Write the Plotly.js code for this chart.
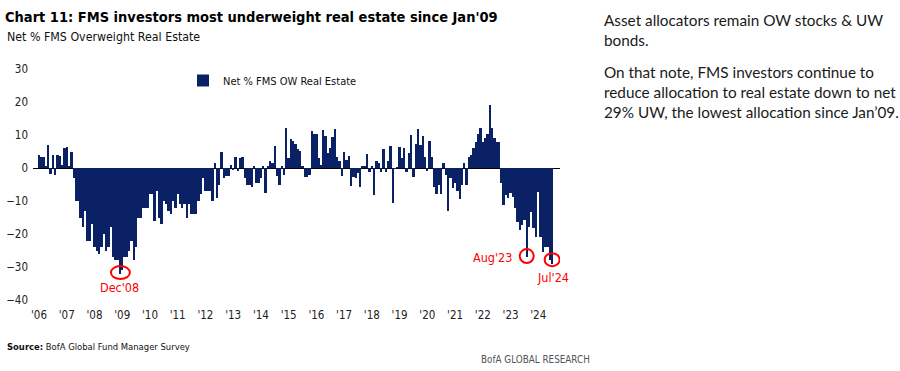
<!DOCTYPE html>
<html>
<head>
<meta charset="utf-8">
<script src="https://cdn.plot.ly/plotly-3.0.1.min.js"></script>
<style>
html,body{margin:0;padding:0;background:#fff;}
#chart{width:900px;height:371px;}
</style>
</head>
<body>
<div id="chart"></div>
<script>
// ---- Data: Net % FMS investors overweight real estate, monthly ----
const years = [2006,2007,2008,2009,2010,2011,2012,2013,2014,2015,2016,2017,2018,2019,2020,2021,2022,2023,2024];
const v2006 = [4, 3.3, 3.3, 0.5, 7, -1.7, 4, -2, 4, 3.5, 1, 6];
const v2007 = [6.5, 0.5, 4.7, -3, -10, -10, -15, -18, -13, -22, -22, -17];
const v2008 = [-24, -25, -26, -24, -20, -25, -24, -18, -27, -28, -28, -32];
const v2009 = [-31, -27, -27, -25, -22, -28, -24, -15, -15, -12, -12, -12];
const v2010 = [-8, -8, -16, -7, -15, -17, -10, -11, -13, -14, -10, -12];
const v2011 = [-8, -11, -12, -11, -15, -11, -14, -14, -14, -10, -8, -3];
const v2012 = [-7, -7, -7, -10, 1.5, -9, -5, 5, -3, -2.5, -2.5, 1];
const v2013 = [-0.6, 3.4, -1, 3, 3.4, -3, -5, -5, -5.7, 0.7, -4.6, -4.6];
const v2014 = [-3, 0.7, -7.5, 0.7, 2, 1.4, 6.7, -2.3, -5, 0.7, -2, 12];
const v2015 = [3, 8.7, 8.3, 7.2, 5.8, 5.2, 0.7, -2.6, -2.6, -2, 11.2, 10.2];
const v2016 = [10.2, 3, 1, 11.5, 9.8, 4.4, 6, 9.5, 11.7, 3.4, 2, -2.3];
const v2017 = [4.7, 2.4, 3.6, -5.4, -2.6, -3.1, -1.6, -5.8, 0.7, 0.7, 4.2, -1.1];
const v2018 = [0.7, -8.2, 2.1, 1.4, -1.1, 5.7, -1.1, 2.1, 6.8, -10.7, -0.3, 0.3];
const v2019 = [6.5, 3, 6.2, -1.1, 4.4, 10, -2.6, 7.2, 11.7, 7, 9.7, 3.4];
const v2020 = [-0.9, 8.2, 3.4, -5.7, -8, -5.2, -8, 1.4, -2, -13, -3, -6];
const v2021 = [-4.6, -7, -9.4, -5, 1.4, -5, 3.4, 4, 6.2, 8, 10.2, 12.2];
const v2022 = [8, 9.2, 10.2, 19, 12, 9.2, 8, 8, -4.6, -11.2, -8.2, -9.2];
const v2023 = [-7.7, -8.7, -12.2, -16.3, -18.8, -17.3, -15.8, -27, -17.8, -13.2, -18.3, -20.8];
const v2024 = [-7.2, -20.8, -25.4, -24, -24, -28, -29];
const yearValues = [v2006,v2007,v2008,v2009,v2010,v2011,v2012,v2013,v2014,v2015,v2016,v2017,v2018,v2019,v2020,v2021,v2022,v2023,v2024];

const tickLabels = ["'06","'07","'08","'09","'10","'11","'12","'13","'14","'15","'16","'17","'18","'19","'20","'21","'22","'23","'24"];
const yTicks = [30, 20, 10, 0, -10, -20, -30, -40];
const seriesName = 'Net % FMS OW Real Estate';

const highlights = [
  {month: '2008-12', label: "Dec'08"},
  {month: '2023-08', label: "Aug'23"},
  {month: '2024-07', label: "Jul'24"}
];

// ---- Build month categories ----
const months = [], values = [];
years.forEach((yr, i) => {
  yearValues[i].forEach((v, j) => {
    months.push(yr + '-' + String(j + 1).padStart(2, '0'));
    values.push(v);
  });
});
const tickVals = years.map(y => y + '-01');
const valOf = m => values[months.indexOf(m)];

// ---- Layout geometry ----
const W = 900, H = 371;
const M = {l: 33, r: 340, t: 69, b: 71};
const PW = W - M.l - M.r, PH = H - M.t - M.b;
const px = x => (x - M.l) / PW;
const py = y => (H - M.b - y) / PH;

const NARROW = "'Liberation Sans Narrow', 'Arial Narrow', 'DejaVu Sans Condensed', 'Roboto Condensed', sans-serif";
const BODY = "Lato, Carlito, Calibri, 'Open Sans', sans-serif";
const NAVY = '#0a2166';
const RED = '#ff0000';

const trace = {
  type: 'bar',
  x: months,
  y: values,
  name: seriesName,
  marker: {color: NAVY, line: {width: 0}},
  showlegend: true,
  hoverinfo: 'skip'
};

const circleSpec = {
  '2008-12': {x0: -9, x1: 10, y0: -5.5, y1: 7.5},
  '2023-08': {x0: -7, x1: 7, y0: -6, y1: 8},
  '2024-07': {x0: -7.5, x1: 7.5, y0: -2.5, y1: 10.5}
};
const shapes = highlights.map(h => {
  const c = circleSpec[h.month];
  return {
    type: 'circle', xref: 'x', yref: 'y',
    xsizemode: 'pixel', ysizemode: 'pixel',
    xanchor: h.month, yanchor: valOf(h.month),
    x0: c.x0, x1: c.x1, y0: c.y0, y1: c.y1,
    line: {color: RED, width: 2}, fillcolor: 'rgba(0,0,0,0)'
  };
});

const labelSpec = {
  '2008-12': {xanchor: 'center', xshift: 0, yshift: -14},
  '2023-08': {xanchor: 'right', xshift: -13, yshift: 0},
  '2024-07': {xanchor: 'center', xshift: 1, yshift: -14}
};
const annotations = highlights.map(h => {
  const s = labelSpec[h.month];
  return {
    xref: 'x', yref: 'y', x: h.month, y: valOf(h.month),
    text: h.label, showarrow: false,
    xanchor: s.xanchor, yanchor: 'middle', xshift: s.xshift, yshift: s.yshift,
    font: {family: NARROW, size: 12.5, color: RED}
  };
});

annotations.push(
  {xref: 'paper', yref: 'paper', x: px(5), y: py(37), xanchor: 'left', yanchor: 'middle',
   text: 'Net % FMS Overweight Real Estate', showarrow: false,
   font: {family: NARROW, size: 12.3, color: '#111'}},
  {xref: 'paper', yref: 'paper', x: px(5), y: py(346), xanchor: 'left', yanchor: 'middle',
   text: '<b>Source:</b> BofA Global Fund Manager Survey', showarrow: false,
   font: {family: NARROW, size: 9.4, color: '#111'}},
  {xref: 'paper', yref: 'paper', x: px(479), y: py(359), xanchor: 'left', yanchor: 'middle',
   text: 'BofA GLOBAL RESEARCH', showarrow: false,
   font: {family: NARROW, size: 9.8, color: '#555'}},
  {xref: 'paper', yref: 'paper', x: px(602), y: py(9), xanchor: 'left', yanchor: 'top', align: 'left',
   text: 'Asset allocators remain OW stocks &amp; UW<br>bonds.', showarrow: false,
   font: {family: BODY, size: 15.3, color: '#1a1a1a'}},
  {xref: 'paper', yref: 'paper', x: px(602), y: py(61), xanchor: 'left', yanchor: 'top', align: 'left',
   text: 'On that note, FMS investors continue to<br>reduce allocation to real estate down to net<br>29% UW, the lowest allocation since Jan\u201909.', showarrow: false,
   font: {family: BODY, size: 15.3, color: '#1a1a1a'}}
);

const layout = {
  width: W, height: H,
  margin: M,
  paper_bgcolor: '#fff', plot_bgcolor: '#fff',
  title: {
    text: "<b>Chart 11: FMS investors most underweight real estate since Jan'09</b>",
    font: {family: NARROW, size: 14.5, color: '#000'},
    x: 5 / W, xref: 'container', xanchor: 'left',
    y: 1 - 17 / H, yref: 'container', yanchor: 'middle'
  },
  bargap: 0,
  xaxis: {
    type: 'category',
    range: [-2.6, 225.4],
    tickmode: 'array', tickvals: tickVals, ticktext: tickLabels,
    showgrid: false, showline: false, zeroline: false, ticks: '',
    tickangle: 0,
    tickfont: {family: NARROW, size: 11.5, color: '#222'},
    ticklabelstandoff: 6
  },
  yaxis: {
    range: [-40, 30],
    tickmode: 'array', tickvals: yTicks,
    showgrid: false, showline: false, ticks: '',
    zeroline: true, zerolinecolor: '#000', zerolinewidth: 1,
    tickfont: {family: NARROW, size: 11.5, color: '#222'},
    ticklabelstandoff: 4
  },
  legend: {
    x: px(183), y: py(66), xanchor: 'left', yanchor: 'top',
    bgcolor: 'rgba(0,0,0,0)', borderwidth: 0,
    font: {family: NARROW, size: 11, color: '#111'},
    itemwidth: 30
  },
  shapes: shapes,
  annotations: annotations
};

Plotly.newPlot('chart', [trace], layout, {staticPlot: true, displayModeBar: false});
</script>
</body>
</html>
